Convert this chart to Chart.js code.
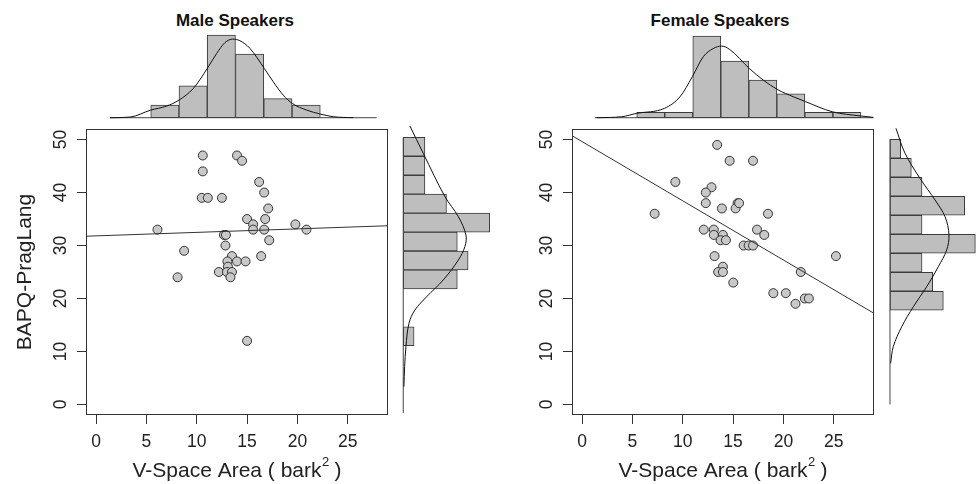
<!DOCTYPE html>
<html>
<head>
<meta charset="utf-8">
<script src="https://cdn.jsdelivr.net/npm/chart.js@4"></script>
<style>
  body { margin: 0; background: #fff; }
  #wrap { position: relative; width: 976px; height: 484px; overflow: hidden; }
  canvas { position: absolute; }
  .title {
    position: absolute; transform: translate(-50%, -50%); white-space: nowrap;
    font: bold 17px "Liberation Sans", Arial, sans-serif; line-height: 1; color: #111;
  }
</style>
</head>
<body>
<div id="wrap">
  <div class="title" style="left:235px;top:20px">Male Speakers</div>
  <div class="title" style="left:720px;top:20px">Female Speakers</div>
  <canvas id="maleTop" style="left:86px;top:28px" width="302" height="95"></canvas>
  <canvas id="femaleTop" style="left:572px;top:28px" width="302" height="95"></canvas>
  <canvas id="maleScatter" style="left:0px;top:129px" width="388" height="356"></canvas>
  <canvas id="femaleScatter" style="left:486px;top:129px" width="388" height="356"></canvas>
  <canvas id="maleRight" style="left:400px;top:120px" width="100" height="295"></canvas>
  <canvas id="femaleRight" style="left:887px;top:120px" width="89" height="295"></canvas>
</div>
<script>
// axis ticks
const xTicks = [0, 5, 10, 15, 20, 25];
const yTicks = [0, 10, 20, 30, 40, 50];

// male speakers: V-space area vs BAPQ-PragLang
const maleX = [10.6, 14.0, 14.5, 10.6, 16.2, 16.7, 10.5, 11.1, 12.5, 17.1, 15.0, 16.8, 15.6, 19.8, 6.1, 15.6, 16.7, 20.9,
  12.7, 12.9, 17.2, 12.85, 8.75, 13.5, 16.4, 13.05, 14.0, 14.85, 13.1, 12.2, 13.0, 13.5, 8.1, 13.35, 15.0];
const maleY = [47, 47, 46, 44, 42, 40, 39, 39, 39, 37, 35, 35, 34, 34, 33, 33, 33, 33,
  32, 32, 31, 30, 29, 28, 28, 27, 27, 27, 26, 25, 25, 25, 24, 24, 12];
const maleFit = { a: 31.82, b: 0.066 };

// female speakers
const femaleX = [13.42, 14.66, 16.98, 9.27, 12.86, 12.29, 12.29, 15.45, 15.25, 13.89, 7.21, 18.47, 12.09, 13.09, 17.38,
  13.09, 13.99, 18.1, 13.76, 14.29, 16.05, 16.55, 16.98, 25.22, 13.16, 13.99, 13.52, 13.99, 21.73, 15.02, 19.0, 20.24,
  21.2, 22.13, 22.53, 15.6];
const femaleY = [49, 46, 46, 42, 41, 40, 38, 38, 37, 37, 36, 36, 33, 33, 33,
  32, 32, 32, 31, 31, 30, 30, 30, 28, 28, 26, 25, 25, 25, 23, 21, 21,
  19, 20, 20, 38];
const femaleFit = { a: 49.62, b: -1.118 };

// top histograms (x variable)
const maleXBreaks = [5.43, 8.24, 11.04, 13.85, 16.66, 19.47, 22.27];
const maleXCounts = [2, 5, 13, 10, 3, 2];
const maleXDensX = [1.38, 3.37, 5.43, 7.01, 8.24, 9.66, 11.05, 11.98, 12.8, 13.57, 14.29, 15.28, 16.71, 17.6, 18.59, 19.49, 20.92, 22.27, 23.56, 25.54];
const maleXDensY = [0, 0.1, 1.2, 1.83, 2.77, 4.6, 7.75, 10.1, 11.8, 12.35, 12.1, 10.9, 7.75, 5.65, 3.56, 2.25, 1.2, 0.58, 0.16, 0];
const maleXBase = [1.38, 27.87];

const femaleXBreaks = [5.43, 8.21, 11.0, 13.78, 16.57, 19.35, 22.13, 24.92, 27.7];
const femaleXCounts = [1, 1, 15, 10.4, 6.9, 4.4, 1, 1];
const femaleXDensX = [1.45, 3.94, 5.43, 8.17, 9.73, 10.95, 12.04, 13.03, 13.87, 14.69, 16.61, 18.0, 19.39, 20.98, 22.21, 24.85, 27.7, 28.93];
const femaleXDensY = [0, 0.18, 0.8, 1.71, 3.85, 7.52, 11.2, 12.7, 13.15, 12.5, 9.05, 6.9, 5.2, 3.85, 2.94, 1.1, 0.31, 0.06];
const femaleXBase = [1.28, 28.95];

// right histograms (y variable), bottom to top
const maleYBreaks = [11.08, 14.66, 18.23, 21.81, 25.39, 28.97, 32.54, 36.12, 39.70, 43.27, 46.85, 50.43];
const maleYCounts = [1, 0, 0, 5, 6, 5, 8, 4, 2, 2, 2];
const maleYDensY = [52.57, 47.41, 39.22, 35.44, 31.99, 29.78, 27.27, 23.49, 20.34, 17.82, 15.31, 10.9, 7.12, 3.34];
const maleYDensC = [0.62, 1.85, 3.86, 5.1, 5.8, 5.7, 5.1, 3.7, 2.17, 1.08, 0.53, 0.25, 0.13, 0.06];
const maleYBase = [-1.6, 50.43];

const femaleYBreaks = [17.77, 21.36, 24.95, 28.53, 32.12, 35.71, 39.30, 42.89, 46.47, 50.06];
const femaleYCounts = [5, 4, 3, 8, 3, 7, 3, 2, 1];
const femaleYDensY = [52.13, 47.41, 42.69, 38.6, 35.44, 31.99, 29.15, 26.0, 22.22, 18.45, 14.67, 10.9, 7.76];
const femaleYDensC = [0.56, 1.41, 2.81, 4.22, 5.16, 5.53, 5.31, 4.53, 3.44, 2.19, 1.1, 0.31, 0.06];
const femaleYBase = [0, 50.06];

const FONT = '"Liberation Sans", Arial, sans-serif';
const INK = '#222';
const BAR_FILL = '#bebebe';
const BAR_LINE = '#3c3c3c';

const baseOpts = {
  responsive: false,
  animation: false,
  events: [],
  devicePixelRatio: 1,
  layout: { padding: 0, autoPadding: false },
  plugins: { legend: { display: false }, tooltip: { enabled: false } }
};

function mids(breaks) {
  return breaks.slice(0, -1).map((b, i) => (b + breaks[i + 1]) / 2);
}

// box, tick labels and axis titles drawn from the chart's scales
const frame = {
  id: 'frame',
  afterDraw(chart, args, opts) {
    const { ctx, chartArea: a, scales: { x, y } } = chart;
    ctx.save();
    ctx.strokeStyle = '#333';
    ctx.lineWidth = 1;
    ctx.strokeRect(Math.round(a.left) + 0.5, Math.round(a.top) + 0.5, Math.round(a.width) - 1, Math.round(a.height) - 1);

    ctx.fillStyle = INK;
    ctx.font = '17.5px ' + FONT;
    ctx.textAlign = 'center';
    ctx.textBaseline = 'middle';
    xTicks.forEach(v => ctx.fillText(String(v), x.getPixelForValue(v), a.bottom + 27));
    yTicks.forEach(v => {
      ctx.save();
      ctx.translate(a.left - 25, y.getPixelForValue(v));
      ctx.rotate(-Math.PI / 2);
      ctx.fillText(String(v), 0, 0);
      ctx.restore();
    });

    // x title with superscript
    const main = 'V-Space Area ( bark', sup = '2', tail = ' )';
    ctx.font = '21px ' + FONT;
    const w1 = ctx.measureText(main).width, w3 = ctx.measureText(tail).width;
    ctx.font = '13px ' + FONT;
    const w2 = ctx.measureText(sup).width;
    let sx = (a.left + a.right) / 2 - (w1 + w2 + w3) / 2;
    const by = a.bottom + 62;
    ctx.textAlign = 'left';
    ctx.textBaseline = 'alphabetic';
    ctx.font = '21px ' + FONT;
    ctx.fillText(main, sx, by);
    ctx.font = '13px ' + FONT;
    ctx.fillText(sup, sx + w1 + 0.5, by - 11.5);
    ctx.font = '21px ' + FONT;
    ctx.fillText(tail, sx + w1 + w2, by);

    if (opts.yTitle) {
      ctx.save();
      ctx.translate(a.left - 61, (a.top + a.bottom) / 2);
      ctx.rotate(-Math.PI / 2);
      ctx.textAlign = 'center';
      ctx.textBaseline = 'middle';
      ctx.font = '21px ' + FONT;
      ctx.fillText(opts.yTitle, 0, 0);
      ctx.restore();
    }
    ctx.restore();
  }
};

function scatterChart(id, xs, ys, fit, yTitle) {
  const x0 = -1, x1 = 29;
  new Chart(document.getElementById(id), {
    type: 'scatter',
    data: {
      datasets: [
        {
          type: 'line',
          data: [{ x: x0, y: fit.a + fit.b * x0 }, { x: x1, y: fit.a + fit.b * x1 }],
          borderColor: '#333', borderWidth: 1, pointRadius: 0
        },
        {
          data: xs.map((x, i) => ({ x, y: ys[i] })),
          backgroundColor: '#c8c8c8', borderColor: '#333', borderWidth: 1, pointRadius: 4.5
        }
      ]
    },
    options: {
      ...baseOpts,
      plugins: { ...baseOpts.plugins, frame: { yTitle } },
      scales: {
        x: {
          type: 'linear', min: x0, max: x1,
          afterBuildTicks: s => { s.ticks = xTicks.map(v => ({ value: v })); },
          afterFit: s => { s.height = 70; },
          ticks: { display: false },
          grid: { drawOnChartArea: false, tickLength: 9, color: '#333' },
          border: { display: false }
        },
        y: {
          type: 'linear', min: -2, max: 52,
          afterBuildTicks: s => { s.ticks = yTicks.map(v => ({ value: v })); },
          afterFit: s => { s.width = 86; },
          ticks: { display: false },
          grid: { drawOnChartArea: false, tickLength: 9, color: '#333' },
          border: { display: false }
        }
      }
    },
    plugins: [frame]
  });
}

function topHist(id, breaks, counts, densX, densY, base, yMin, yMax) {
  const centers = mids(breaks);
  new Chart(document.getElementById(id), {
    type: 'bar',
    data: {
      datasets: [
        {
          type: 'line', data: densX.map((x, i) => ({ x, y: densY[i] })),
          borderColor: '#111', borderWidth: 1, pointRadius: 0, cubicInterpolationMode: 'monotone'
        },
        {
          type: 'line', data: [{ x: base[0], y: 0 }, { x: base[1], y: 0 }],
          borderColor: '#444', borderWidth: 1, pointRadius: 0
        },
        {
          data: centers.map((x, i) => ({ x, y: counts[i] })),
          backgroundColor: BAR_FILL, borderColor: BAR_LINE, borderWidth: 1, borderSkipped: false,
          barPercentage: 1, categoryPercentage: 1
        }
      ]
    },
    options: {
      ...baseOpts,
      scales: {
        x: { type: 'linear', min: -1, max: 29, offset: false, display: false },
        y: { type: 'linear', min: yMin, max: yMax, display: false }
      }
    }
  });
}

function rightHist(id, breaks, counts, densY, densC, base, xMin, xMax) {
  const centers = mids(breaks);
  new Chart(document.getElementById(id), {
    type: 'bar',
    data: {
      datasets: [
        {
          type: 'line', indexAxis: 'y', data: densY.map((y, i) => ({ x: densC[i], y })),
          borderColor: '#111', borderWidth: 1, pointRadius: 0, tension: 0.35
        },
        {
          type: 'line', indexAxis: 'y', data: [{ x: 0, y: base[0] }, { x: 0, y: base[1] }],
          borderColor: '#444', borderWidth: 1, pointRadius: 0
        },
        {
          data: centers.map((y, i) => ({ x: counts[i], y })),
          backgroundColor: BAR_FILL, borderColor: BAR_LINE, borderWidth: 1, borderSkipped: false,
          barPercentage: 1, categoryPercentage: 1
        }
      ]
    },
    options: {
      ...baseOpts,
      indexAxis: 'y',
      scales: {
        x: { type: 'linear', min: xMin, max: xMax, display: false },
        y: { type: 'linear', min: -2, max: 53.7, offset: false, display: false }
      }
    }
  });
}

scatterChart('maleScatter', maleX, maleY, maleFit, 'BAPQ-PragLang');
scatterChart('femaleScatter', femaleX, femaleY, femaleFit, null);
topHist('maleTop', maleXBreaks, maleXCounts, maleXDensX, maleXDensY, maleXBase, -0.83, 14.1);
topHist('femaleTop', femaleXBreaks, femaleXCounts, femaleXDensX, femaleXDensY, femaleXBase, -0.97, 16.47);
rightHist('maleRight', maleYBreaks, maleYCounts, maleYDensY, maleYDensC, maleYBase, -0.3, 8.95);
rightHist('femaleRight', femaleYBreaks, femaleYCounts, femaleYDensY, femaleYDensC, femaleYBase, -0.28, 8.06);
</script>
</body>
</html>
